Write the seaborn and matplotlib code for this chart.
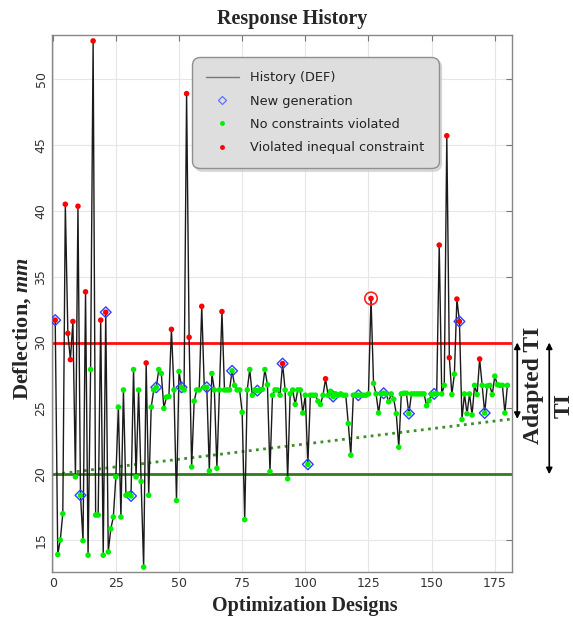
import numpy as np
import pandas as pd
import matplotlib
matplotlib.use("Agg")
import matplotlib.pyplot as plt
import seaborn as sns
from matplotlib.lines import Line2D

# ---- data ----
deflection = [
    31.7, 13.9, 15.0, 17.0, 40.5, 30.7, 28.7, 31.6, 19.8, 40.35,
    18.4, 14.95, 33.85, 13.85, 27.95, 52.9, 16.9, 16.9, 31.7, 13.85,
    32.3, 14.1, 15.85, 16.75, 19.8, 25.1, 16.75, 26.4, 18.4, 18.5,
    18.35, 27.95, 19.8, 26.4, 19.45, 12.95, 28.45, 18.4, 25.1, 26.4,
    26.6, 27.95, 27.65, 25.0, 25.85, 25.9, 31.0, 26.4, 18.0, 27.8,
    26.6, 26.4, 48.9, 30.4, 20.55, 25.55, 26.4, 26.4, 32.75, 26.6,
    26.6, 20.25, 27.65, 26.4, 20.45, 26.4, 32.35, 26.4, 26.4, 26.4,
    27.85, 26.75, 26.4, 26.4, 24.7, 16.55, 26.4, 27.95, 26.0, 26.4,
    26.35, 26.4, 26.45, 27.95, 26.8, 20.2, 26.0, 26.4, 26.4, 26.0,
    28.4, 26.4, 19.65, 26.1, 26.4, 25.3, 26.4, 26.4, 24.65, 26.0,
    20.75, 26.0, 26.0, 26.0, 25.55, 25.3, 26.0, 27.25, 26.0, 26.3,
    25.9, 26.1, 26.0, 26.1, 26.0, 26.0, 23.85, 21.45, 26.0, 26.0,
    26.0, 26.0, 26.0, 26.0, 26.1, 33.35, 26.9, 26.1, 24.65, 26.1,
    26.15, 26.1, 25.5, 26.1, 25.7, 24.6, 22.05, 26.1, 26.15, 26.15,
    24.6, 26.1, 26.1, 26.1, 26.1, 26.1, 26.1, 25.2, 25.6, 26.05,
    26.1, 26.1, 37.4, 26.1, 26.75, 45.7, 28.85, 26.05, 27.6, 33.3,
    31.6, 24.15, 26.1, 24.6, 26.1, 24.5, 26.75, 26.05, 28.75, 26.75,
    24.65, 26.7, 26.75, 26.05, 27.45, 26.8, 26.75, 26.75, 24.65, 26.75,
]
designs = list(range(1, len(deflection) + 1))

violated = [1, 5, 6, 7, 8, 10, 13, 16, 19, 21, 37, 47, 53, 54, 59, 67,
            91, 108, 126, 153, 156, 157, 160, 161, 169]
new_generation = [1, 11, 21, 31, 41, 51, 61, 71, 81, 91, 101, 111, 121,
                  131, 141, 151, 161, 171]
best_design = 126

ti_upper = 30.0
ti_lower = 20.0
adapted_x = [1, 182]
adapted_ti = [20.0, 24.2]

df = pd.DataFrame({"design": designs, "deflection": deflection})
df["status"] = np.where(df["design"].isin(violated), "violated", "ok")
gen = df[df["design"].isin(new_generation)]
best = df[df["design"] == best_design]

# ---- figure ----
sns.set_style("white")
plt.rcParams["font.family"] = ["DejaVu Sans"]
plt.rcParams["mathtext.fontset"] = "custom"
plt.rcParams["mathtext.it"] = "Liberation Serif:italic:bold"
plt.rcParams["mathtext.rm"] = "Liberation Serif:bold"

fig, ax = plt.subplots(figsize=(5.73, 6.22), dpi=100)
fig.subplots_adjust(left=0.0902, right=0.8935, top=0.9437, bottom=0.0809)

ax.grid(True, color="#e6e6e6", lw=0.8, zorder=0)

ax.axhline(ti_upper, color="#ff1010", lw=2, zorder=2)
ax.axhline(ti_lower, color="#2f7d1c", lw=2, zorder=2)
sns.lineplot(x=adapted_x, y=adapted_ti, color="#3d8f28", lw=2,
             linestyle=(0, (1, 1.6)), ax=ax, zorder=2)

sns.lineplot(data=df, x="design", y="deflection", estimator=None,
             color="#1a1a1a", lw=1, ax=ax, zorder=3)

sns.scatterplot(data=gen, x="design", y="deflection", marker="D", s=30,
                facecolor="none", edgecolor="#3040ff", linewidth=1,
                ax=ax, zorder=4, legend=False)
sns.scatterplot(data=df[df["status"] == "ok"], x="design", y="deflection",
                color="#00ee00", s=16, edgecolor="none", ax=ax, zorder=5,
                legend=False)
sns.scatterplot(data=df[df["status"] == "violated"], x="design", y="deflection",
                color="#ff0000", s=16, edgecolor="none", ax=ax, zorder=5,
                legend=False)
sns.scatterplot(data=best, x="design", y="deflection", s=80,
                facecolor="none", edgecolor="#ff2020", linewidth=1.2,
                ax=ax, zorder=6, legend=False)

ax.set_xlim(-0.4, 181.8)
ax.set_ylim(12.6, 53.35)
ax.set_xticks(np.arange(0, 176, 25))
ax.set_yticks(np.arange(15, 51, 5))
ax.tick_params(direction="in", length=4, color="#777777", labelcolor="#333333",
               labelsize=9, top=True, right=True)
ax.tick_params(axis="y", pad=3)
for lab in ax.get_yticklabels():
    lab.set_rotation(90)
    lab.set_va("center")
for sp in ax.spines.values():
    sp.set_color("#888888")
    sp.set_linewidth(1)

serif = dict(family="Liberation Serif", weight="bold", fontsize=14.5)
ax.set_title("Response History", pad=8, x=0.522, **serif)
ax.set_xlabel("Optimization Designs", **serif)
ax.set_ylabel(r"Deflection, $\mathit{mm}$", family="Liberation Serif",
              weight="bold", fontsize=16)
ax.xaxis.set_label_coords(0.55, -0.046)
ax.yaxis.set_label_coords(-0.041, 0.454)

handles = [
    Line2D([], [], color="#777777", lw=1),
    Line2D([], [], marker="D", ls="none", ms=4.5, mfc="none", mec="#6070ff", mew=0.9),
    Line2D([], [], marker="o", ls="none", ms=3.5, mfc="#00ee00", mec="none"),
    Line2D([], [], marker="o", ls="none", ms=3.5, mfc="#ff0000", mec="none"),
]
labels = ["History (DEF)", "New generation", "No constraints violated",
          "Violated inequal constraint"]
leg = ax.legend(handles, labels, loc="upper left", bbox_to_anchor=(0.305, 0.959),
                fontsize=9.3, frameon=True, fancybox=True, framealpha=1,
                handlelength=2.5, handletextpad=0.9, labelspacing=0.8,
                borderpad=1.1, borderaxespad=0,
                shadow={"color": "#cccccc", "alpha": 0.7})
leg.get_frame().set_facecolor("#dedede")
leg.get_frame().set_edgecolor("#8f8f8f")
leg.get_frame().set_boxstyle("round,pad=0,rounding_size=0.6")
for t in leg.get_texts():
    t.set_color("#222222")
leg.set_zorder(10)

# tolerance interval arrows beside the axes
trans = ax.get_yaxis_transform()
arrow = dict(arrowstyle="<|-|>", color="black", lw=1.2,
             mutation_scale=9, shrinkA=0, shrinkB=0)
ax.annotate("", xy=(1.0115, adapted_ti[1]), xytext=(1.0115, ti_upper),
            xycoords=trans, textcoords=trans, arrowprops=arrow,
            annotation_clip=False)
ax.annotate("", xy=(1.081, ti_lower), xytext=(1.081, ti_upper),
            xycoords=trans, textcoords=trans, arrowprops=arrow,
            annotation_clip=False)
side = dict(family="Liberation Serif", weight="bold", fontsize=17)
ax.text(1.047, 26.75, "Adapted TI", transform=trans, rotation=90,
        ha="center", va="center", **side)
ax.text(1.113, 25.2, "TI", transform=trans, rotation=90,
        ha="center", va="center", **side)

fig.savefig("out.png", dpi=100)
